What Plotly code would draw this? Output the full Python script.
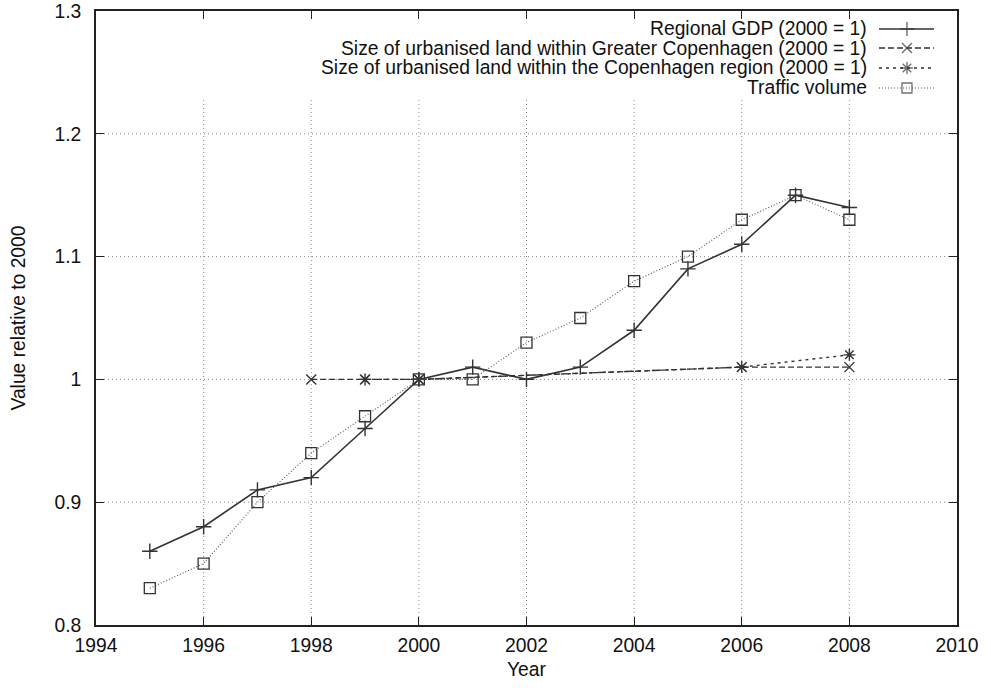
import plotly.graph_objects as go

years_gdp = [1995, 1996, 1997, 1998, 1999, 2000, 2001, 2002, 2003, 2004, 2005, 2006, 2007, 2008]
gdp = [0.86, 0.88, 0.91, 0.92, 0.96, 1.00, 1.01, 1.00, 1.01, 1.04, 1.09, 1.11, 1.15, 1.14]

years_gc = [1998, 1999, 2000, 2006, 2008]
greater_cph = [1.00, 1.00, 1.00, 1.01, 1.01]

years_reg = [1999, 2000, 2006, 2008]
cph_region = [1.00, 1.00, 1.01, 1.02]

years_traffic = [1995, 1996, 1997, 1998, 1999, 2000, 2001, 2002, 2003, 2004, 2005, 2006, 2007, 2008]
traffic = [0.83, 0.85, 0.90, 0.94, 0.97, 1.00, 1.00, 1.03, 1.05, 1.08, 1.10, 1.13, 1.15, 1.13]

names = [
    "Regional GDP (2000 = 1)",
    "Size of urbanised land within Greater Copenhagen (2000 = 1)",
    "Size of urbanised land within the Copenhagen region (2000 = 1)",
    "Traffic volume",
]

x_ticks = [1994, 1996, 1998, 2000, 2002, 2004, 2006, 2008, 2010]
y_ticks = [0.8, 0.9, 1.0, 1.1, 1.2, 1.3]
y_labels = ["0.8", "0.9", "1", "1.1", "1.2", "1.3"]

FONT = "Liberation Sans, Arial, sans-serif"
FS = 19.3
INK = "#333333"
TXT = "#111111"
GRID = dict(color="#8a8a8a", width=1, dash="1px,3px")

styles = [
    dict(line=dict(color=INK, width=1.6, dash="solid"),
         marker=dict(symbol="cross-thin", size=11, line=dict(color=INK, width=1.4))),
    dict(line=dict(color=INK, width=1.4, dash="6px,3px"),
         marker=dict(symbol="x-thin", size=10, line=dict(color=INK, width=1.4))),
    dict(line=dict(color=INK, width=1.4, dash="3px,4px"),
         marker=dict(symbol="asterisk-open", size=10, line=dict(color=INK, width=1.4))),
    dict(line=dict(color="#555555", width=1.1, dash="1px,2px"),
         marker=dict(symbol="square-open", size=11, color=INK, line=dict(color=INK, width=1.3))),
]

series = [(years_gdp, gdp), (years_gc, greater_cph), (years_reg, cph_region), (years_traffic, traffic)]

fig = go.Figure()

# grid lines (vertical ones stop below the key, as in the original)
for xv in x_ticks[1:-1]:
    fig.add_shape(type="line", xref="x", yref="paper", x0=xv, x1=xv, y0=0, y1=0.86,
                  line=GRID, layer="below")
for yv in y_ticks[1:-1]:
    fig.add_shape(type="line", xref="paper", yref="y", x0=0, x1=1, y0=yv, y1=yv,
                  line=GRID, layer="below")

for (xs, ys), st, nm in zip(series, styles, names):
    fig.add_trace(go.Scatter(x=xs, y=ys, mode="lines+markers", name=nm,
                             line=st["line"], marker=st["marker"], showlegend=False))

# Legend drawn manually (text right-aligned, sample on the right), as in the original
row_y = [0.9707, 0.9397, 0.9072, 0.8746]
for nm, st, yy in zip(names, styles, row_y):
    fig.add_trace(go.Scatter(x=[0.9094, 0.9419, 0.9733], y=[yy, yy, yy], mode="lines+markers",
                             xaxis="x2", yaxis="y2", showlegend=False, hoverinfo="skip",
                             line=st["line"],
                             marker=dict(symbol=st["marker"]["symbol"], size=[0, 10, 0],
                                         color=st["marker"].get("color", INK),
                                         line=st["marker"]["line"])))
    fig.add_annotation(x=0.8975, y=yy, xref="paper", yref="paper", text=nm, showarrow=False,
                       xanchor="right", yanchor="middle", font=dict(family=FONT, size=FS, color=TXT))

axis_common = dict(showline=True, linecolor="#222", linewidth=1.6, mirror="ticks",
                   ticks="inside", ticklen=8, tickcolor="#222", tickwidth=1.4,
                   showgrid=False, zeroline=False, automargin=False,
                   tickfont=dict(family=FONT, size=FS, color=TXT))

fig.update_layout(
    width=991, height=688,
    margin=dict(l=96, r=34, t=11, b=63),
    paper_bgcolor="white", plot_bgcolor="white",
    xaxis=dict(range=[1994, 2010], tickvals=x_ticks, ticktext=[str(v) for v in x_ticks],
               ticklabelstandoff=2,
               title=dict(text="Year", font=dict(family=FONT, size=FS, color=TXT), standoff=8),
               **axis_common),
    yaxis=dict(range=[0.8, 1.3], tickvals=y_ticks, ticktext=y_labels,
               ticklabelstandoff=9,
               title=dict(text="Value relative to 2000", font=dict(family=FONT, size=FS, color=TXT), standoff=24),
               **axis_common),
    xaxis2=dict(overlaying="x", range=[0, 1], visible=False, fixedrange=True),
    yaxis2=dict(overlaying="y", range=[0, 1], visible=False, fixedrange=True),
)

# remove the default 8px page margin so the 991x688 figure fills the window exactly
fig.write_html("out.html", config={"displayModeBar": False},
               post_script="document.body.style.margin='0';document.body.style.overflow='hidden';")
